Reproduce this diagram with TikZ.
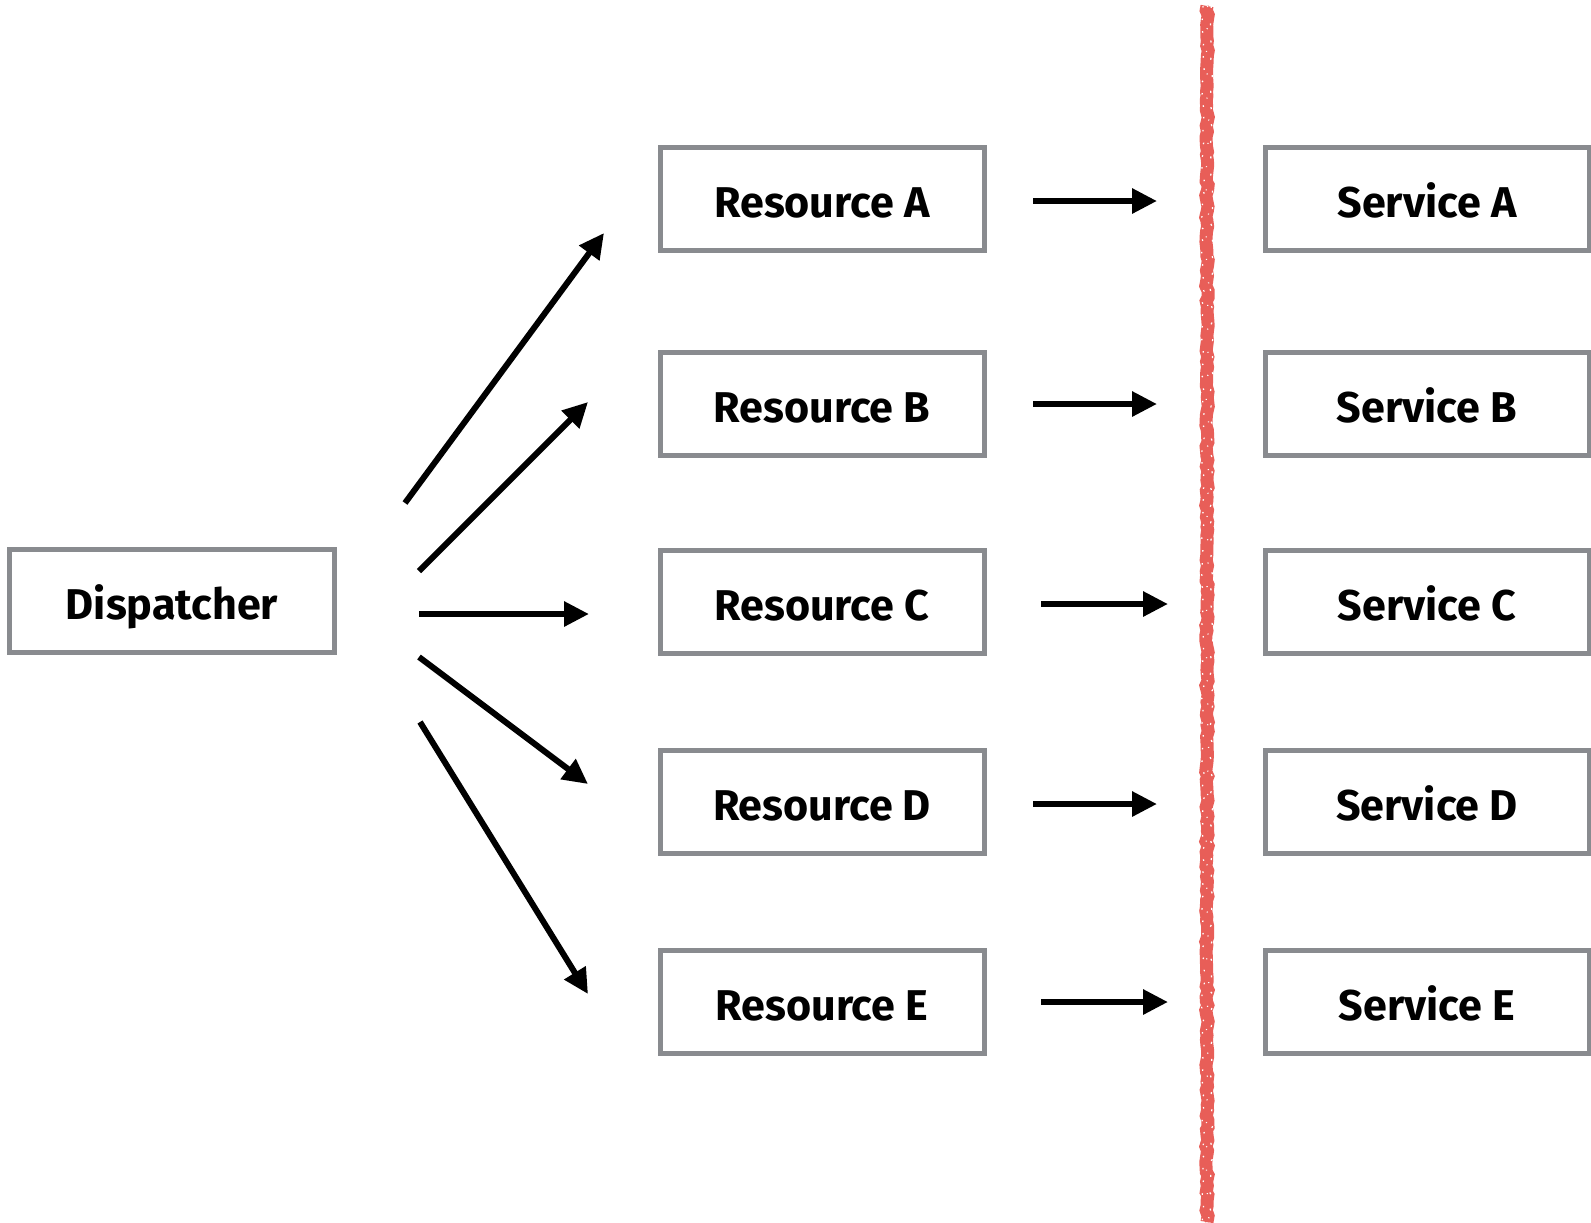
\documentclass[tikz,border=0pt]{standalone}
\usepackage{fontspec}
\setmainfont{Fira Sans}
\usetikzlibrary{arrows.meta}
\usetikzlibrary{decorations.pathmorphing}
\definecolor{boxgray}{HTML}{898B8F}
\definecolor{chalkred}{HTML}{E85E58}

\begin{document}
\begin{tikzpicture}[x=0.2mm, y=-0.2mm,
        box/.style={draw=boxgray, line width=1mm, minimum width=64.8mm, minimum height=20.6mm,
                    inner sep=0pt, text height=7.2mm, text depth=0pt,
                    font=\fontsize{24.5}{28}\selectfont\bfseries},
        flow/.style={line width=1.2mm, -{Triangle[length=5mm, width=4.8mm]}},
        chalk/.style={draw=chalkred, line width=2.6mm, decorate,
                      decoration={random steps, segment length=1mm, amplitude=0.25mm}},
        speck/.style={draw=white, line width=0.25mm, decorate,
                      decoration={random steps, segment length=0.8mm, amplitude=0.3mm}}]
        \useasboundingbox (0,0) rectangle (1591,1222);

        \node[box] (disp) at (172,601) {Dispatcher};

        \node[box] (resA) at (822,199) {Resource A};
        \node[box] (resB) at (822,404) {Resource B};
        \node[box] (resC) at (822,602) {Resource C};
        \node[box] (resD) at (822,802) {Resource D};
        \node[box] (resE) at (822,1002) {Resource E};

        \node[box] (srvA) at (1427,199) {Service A};
        \node[box] (srvB) at (1427,404) {Service B};
        \node[box] (srvC) at (1427,602) {Service C};
        \node[box] (srvD) at (1427,802) {Service D};
        \node[box] (srvE) at (1427,1002) {Service E};

        \coordinate (outA) at (405,503);
        \coordinate (outB) at (419,571);
        \coordinate (outC) at (419,614);
        \coordinate (outD) at (419,657);
        \coordinate (outE) at (420,722);
        \coordinate (inA) at (604,233);
        \coordinate (inB) at (588,402);
        \coordinate (inC) at (589,614);
        \coordinate (inD) at (588,784);
        \coordinate (inE) at (588,994);

        \coordinate (callA) at (1033,201);
        \coordinate (callB) at (1033,404);
        \coordinate (callC) at (1041,604);
        \coordinate (callD) at (1033,804);
        \coordinate (callE) at (1041,1002);
        \coordinate (hitA) at (1157,201);
        \coordinate (hitB) at (1157,404);
        \coordinate (hitC) at (1168,604);
        \coordinate (hitD) at (1157,804);
        \coordinate (hitE) at (1168,1002);

        \coordinate (wallT) at (1207,6);
        \coordinate (wallB) at (1207,1222);

        \foreach \r in {A,B,C,D,E} {
            \draw[flow] (out\r) -- (in\r);
            \draw[flow] (call\r) -- (hit\r);
        }

        \draw[chalk] (wallT) -- (wallB);
        \draw[chalk, line width=0.7mm, xshift=-1mm] (wallT) -- (wallB);
        \draw[chalk, line width=0.7mm, xshift=1mm] (wallT) -- (wallB);
        \draw[speck, dash pattern=on 0.3mm off 2.3mm] ([xshift=-0.8mm]wallT) -- ([xshift=-0.8mm]wallB);
        \draw[speck, dash pattern=on 0.4mm off 3.1mm] ([xshift=0.9mm]wallT) -- ([xshift=0.9mm]wallB);
        \draw[speck, dash pattern=on 0.2mm off 4.7mm] ([xshift=0.1mm]wallT) -- ([xshift=0.1mm]wallB);
    \end{tikzpicture}
\end{document}
